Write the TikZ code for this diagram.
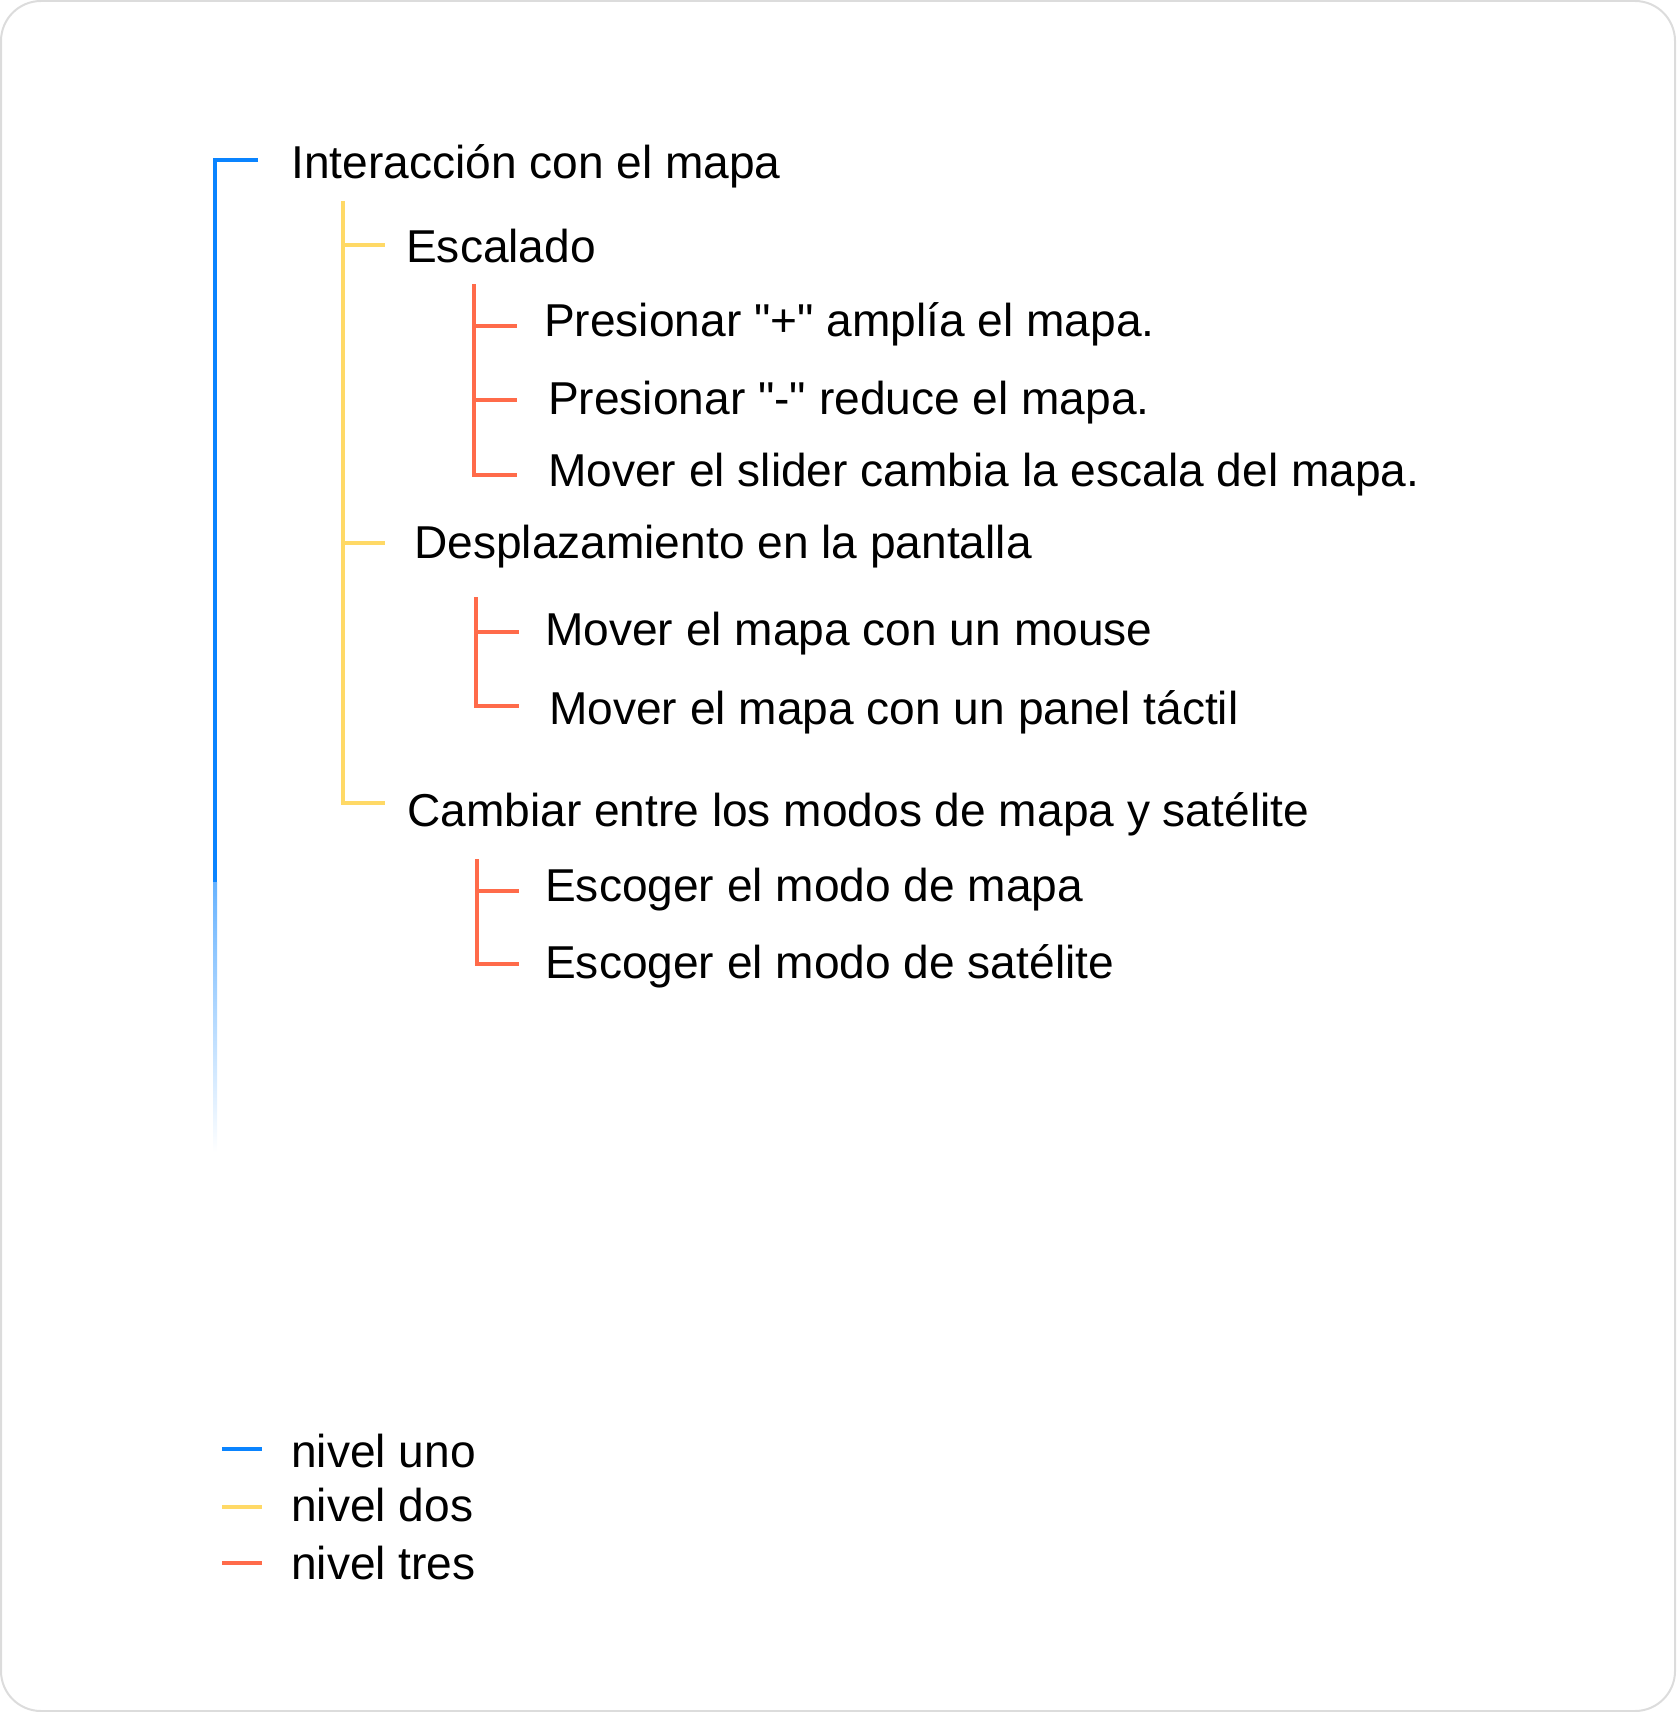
\documentclass[tikz,border=0pt]{standalone}
\usepackage{fontspec}
\newfontfamily\mainsans{Liberation Sans}
\definecolor{lvlone}{RGB}{10,132,255}
\definecolor{lvltwo}{RGB}{255,217,102}
\definecolor{lvlthree}{RGB}{255,107,74}
\definecolor{frame}{RGB}{220,220,220}
\begin{document}
\begin{tikzpicture}[x=1pt,y=-1pt,
  txt/.style={anchor=base west,inner sep=0pt,font=\mainsans\fontsize{46.1}{54}\selectfont},
  lone/.style={draw=lvlone,line width=4pt},
  ltwo/.style={draw=lvltwo,line width=4pt},
  lthree/.style={draw=lvlthree,line width=4pt}]
\useasboundingbox (0,0) rectangle (1676,1712);
\draw[frame,line width=2pt,rounded corners=40pt] (1,1) rectangle (1675,1711);

% texts
\node[txt] (t0) at (291,179) {Interacción con el mapa};
\node[txt] (t1) at (406,262.7) {Escalado};
\node[txt] (t11) at (544,336.7) {Presionar "+" amplía el mapa.};
\node[txt] (t12) at (548,414) {Presionar "-" reduce el mapa.};
\node[txt] (t13) at (548,486) {Mover el slider cambia la escala del mapa.};
\node[txt] (t2) at (414,558) {Desplazamiento en la pantalla};
\node[txt] (t21) at (545,645) {Mover el mapa con un mouse};
\node[txt] (t22) at (549,724) {Mover el mapa con un panel táctil};
\node[txt] (t3) at (407,826) {Cambiar entre los modos de mapa y satélite};
\node[txt] (t31) at (545,901) {Escoger el modo de mapa};
\node[txt] (t32) at (545,978) {Escoger el modo de satélite};

% level one
\coordinate (b0) at (258,160);
\coordinate (bc) at (215,160);
\coordinate (bs) at (215,882);
\draw[lone] (b0) -- (bc) -- (bs);
\shade[top color=lvlone!62!white,bottom color=white] (213,882) rectangle (217,1152);

% level two
\coordinate (ytop) at (343,201);
\coordinate (yc) at (343,803);
\coordinate (y1) at (385,245);
\coordinate (y2) at (385,543);
\coordinate (y3) at (385,803);
\draw[ltwo] (ytop) -- (yc) -- (y3);
\draw[ltwo] (343,245) -- (y1);
\draw[ltwo] (343,543) -- (y2);

% level three, group 1
\coordinate (r1top) at (474,284);
\coordinate (r1c) at (474,475);
\draw[lthree] (r1top) -- (r1c) -- (517,475);
\draw[lthree] (474,326) -- (517,326);
\draw[lthree] (474,400) -- (517,400);

% group 2
\coordinate (r2top) at (476,597);
\coordinate (r2c) at (476,706);
\draw[lthree] (r2top) -- (r2c) -- (519,706);
\draw[lthree] (476,632) -- (519,632);

% group 3
\coordinate (r3top) at (477,859);
\coordinate (r3c) at (477,964);
\draw[lthree] (r3top) -- (r3c) -- (519,964);
\draw[lthree] (477,891) -- (519,891);

% legend
\node[txt] (l1) at (291,1467) {nivel uno};
\node[txt] (l2) at (291,1521) {nivel dos};
\node[txt] (l3) at (291,1579.5) {nivel tres};
\coordinate (k1a) at (222,1449);
\coordinate (k1b) at (262,1449);
\coordinate (k2a) at (222,1506.7);
\coordinate (k2b) at (262,1506.7);
\coordinate (k3a) at (222,1563);
\coordinate (k3b) at (262,1563);
\draw[lone] (k1a) -- (k1b);
\draw[ltwo] (k2a) -- (k2b);
\draw[lthree] (k3a) -- (k3b);
\end{tikzpicture}
\end{document}
